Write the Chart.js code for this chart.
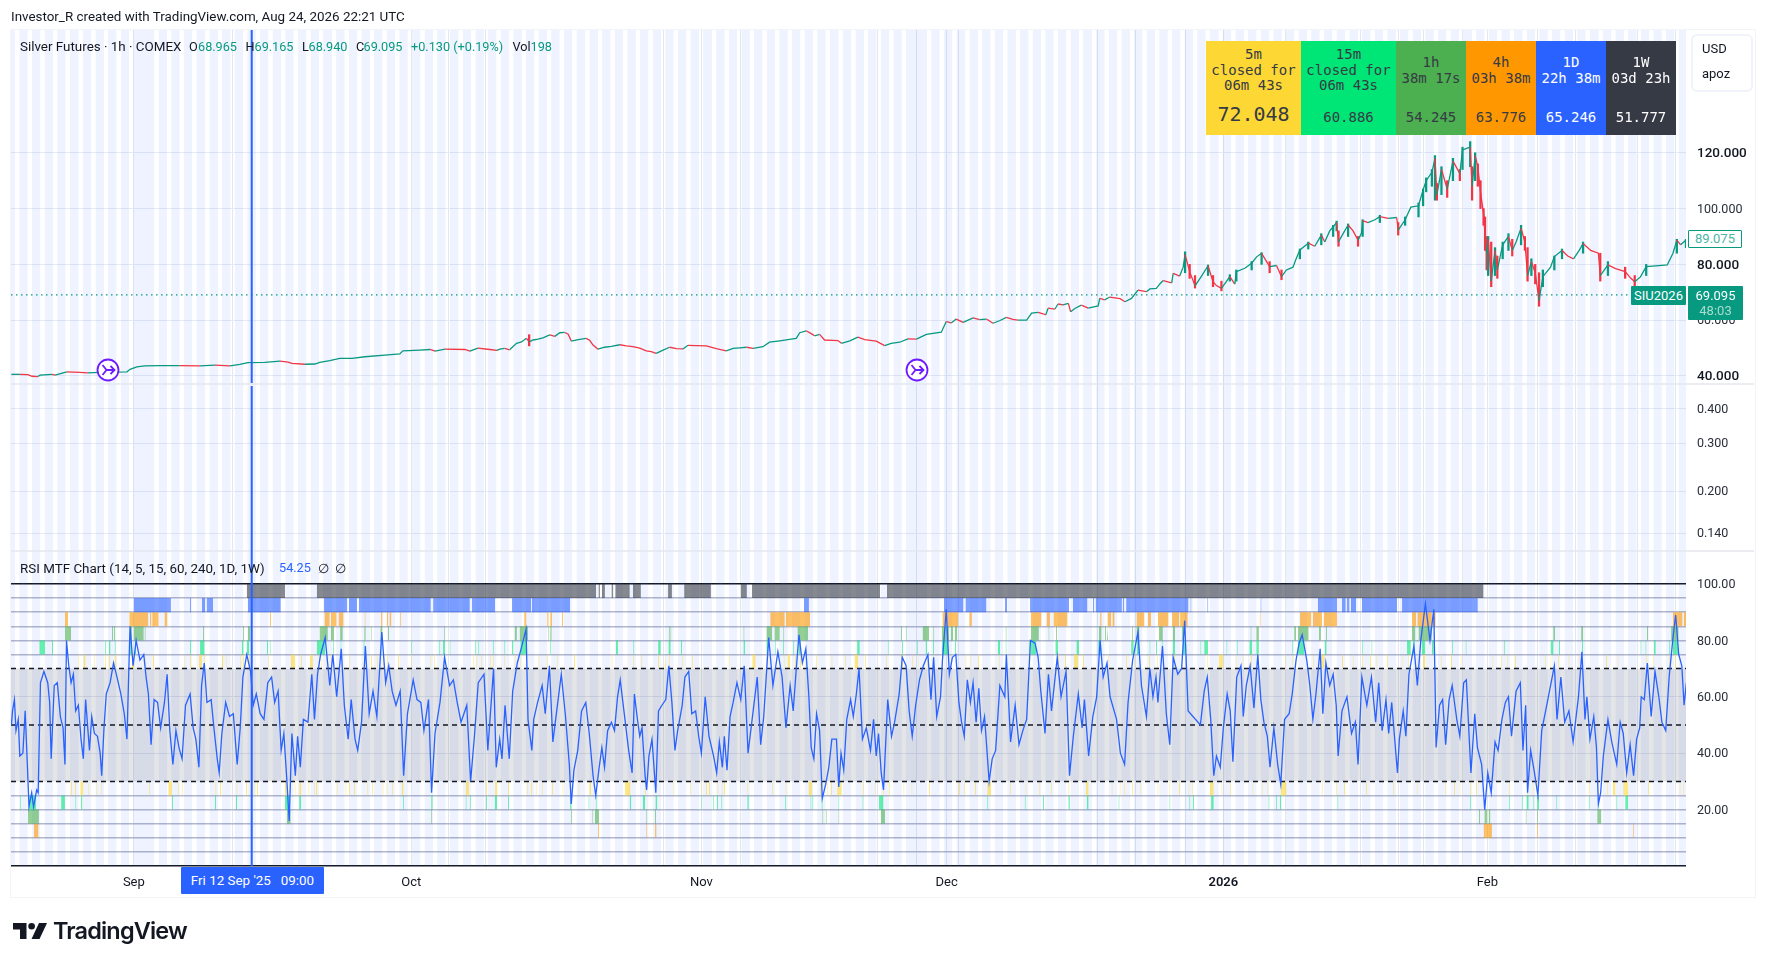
<!doctype html>
<html><head><meta charset="utf-8">
<script src="https://cdn.jsdelivr.net/npm/chart.js@4"></script>
<style>
html,body{margin:0;padding:0;background:#fff;width:1766px;height:964px;overflow:hidden;font-family:Roboto,sans-serif;color:#131722}
#c{position:absolute;left:0;top:0}
.t{position:absolute;white-space:pre;line-height:1}
#frame{position:absolute;left:10px;top:29px;width:1744px;height:867px;border:1.5px solid #f2f4f8;box-sizing:content-box}
.cell{position:absolute;top:41px;height:94px;font-family:"DejaVu Sans Mono",monospace;font-size:14px;text-align:center;line-height:15.6px;white-space:pre}
.cell b{position:absolute;left:0;right:0;top:69px;font-weight:400}
.cell span{position:absolute;left:0;right:0}
.g{color:#089981}
.leg span{position:absolute;top:0.5px;font-size:12.7px}
</style></head><body>
<div id="frame"></div>
<canvas id="c" width="1766" height="964"></canvas>
<div class="t" style="left:11px;top:10px;font-size:13.4px">Investor_R created with TradingView.com, Aug 24, 2026 22:21 UTC</div>
<div class="t leg" style="left:20px;top:40px;font-size:13.4px">Silver Futures · 1h · COMEX<span style="left:169px">O</span><span class="g" style="left:178px">68.965</span><span style="left:225.5px">H</span><span class="g" style="left:234.5px">69.165</span><span style="left:282px">L</span><span class="g" style="left:288.5px">68.940</span><span style="left:336px">C</span><span class="g" style="left:343.5px">69.095</span><span class="g" style="left:391px">+0.130 (+0.19%)</span><span style="left:492.5px">Vol</span><span class="g" style="left:510.5px">198</span></div>
<div class="t" style="left:20px;top:562px;font-size:13.4px">RSI MTF Chart (14, 5, 15, 60, 240, 1D, 1W)<span style="position:absolute;left:259px;color:#2962ff;font-size:12.7px">54.25</span><span style="position:absolute;left:298px">∅</span><span style="position:absolute;left:315px">∅</span></div>
<div class="cell" style="left:1206px;width:95px;height:94px;background:#fdd835;color:#363a45"><span style="top:6px">5m
closed for
06m 43s</span><b style="font-size:20px;top:66px">72.048</b></div>
<div class="cell" style="left:1301px;width:95px;background:#00e676;color:#363a45"><span style="top:6px">15m
closed for
06m 43s</span><b>60.886</b></div>
<div class="cell" style="left:1396px;width:70px;background:#4caf50;color:#363a45"><span style="top:14px">1h
38m 17s</span><b>54.245</b></div>
<div class="cell" style="left:1466px;width:70px;background:#ff9800;color:#363a45"><span style="top:14px">4h
03h 38m</span><b>63.776</b></div>
<div class="cell" style="left:1536px;width:70px;background:#2962ff;color:#fff"><span style="top:14px">1D
22h 38m</span><b>65.246</b></div>
<div class="cell" style="left:1606px;width:70px;background:#363a45;color:#fff"><span style="top:14px">1W
03d 23h</span><b>51.777</b></div>
<div style="position:absolute;left:1691px;top:34px;width:58px;height:54px;border:2px solid #f0f3fa;border-radius:6px"></div>
<div class="t" style="left:1702px;top:42px;font-size:13px">USD</div>
<div class="t" style="left:1702px;top:67px;font-size:13px">apoz</div>
<div class="t" style="left:1688px;top:230px;width:52px;height:16px;border:1.5px solid #089981;background:#fff;color:#4bb5a1;font-size:13px;text-align:center;line-height:16px;border-radius:1px">89.075</div>
<div class="t" style="left:1631px;top:286px;width:55px;height:19px;background:#089981;color:#fff;font-size:13px;text-align:center;line-height:19px;border-radius:1px">SIU2026</div>
<div class="t" style="left:1688px;top:286px;width:55px;height:34px;background:#089981;color:#fff;font-size:13px;text-align:center;border-radius:1px"><span style="position:absolute;left:0;right:0;top:3px">69.095</span><span style="position:absolute;left:0;right:0;top:18px;color:#a9dccf">48:03</span></div>
<div class="t" style="left:181px;top:867px;width:143px;height:27px;background:#2962ff;color:#fff;font-size:13.4px;text-align:center;line-height:27px;border-radius:1px">Fri 12 Sep '25   09:00</div>
<svg style="position:absolute;left:96px;top:358px" width="24" height="24" viewBox="0 0 24 24" fill="none" stroke="#6f1bff" stroke-width="1.8"><circle cx="12" cy="12" r="10.5" fill="#fff"/><path d="M6.5 7l4 5-4 5M9.5 12h9M14.5 8l4 4-4 4"/></svg>
<svg style="position:absolute;left:905px;top:358px" width="24" height="24" viewBox="0 0 24 24" fill="none" stroke="#6f1bff" stroke-width="1.8"><circle cx="12" cy="12" r="10.5" fill="#fff"/><path d="M6.5 7l4 5-4 5M9.5 12h9M14.5 8l4 4-4 4"/></svg>
<svg style="position:absolute;left:13px;top:923px" width="34" height="16" viewBox="0 0 34 16" fill="#131722"><path d="M0 0h13.5v16H7V6.5H0z"/><circle cx="18.6" cy="3.3" r="3.3"/><path d="M26 0h8l-7.5 16h-8z"/></svg>
<div class="t" style="left:53px;top:919px;font-size:23.5px;font-weight:600;font-family:Inter,Roboto,sans-serif;letter-spacing:-0.85px;color:#131722">TradingView</div>
<script>
// Timeline unit: one step of the (weekend-less) trading axis. Lists are split in three blocks.
const blockBase=[0,1568,3047];
const axisMin=29, axisMax=4406;
const monthTicks=[350,1075,1833,2474,3197,3887];
const monthLabels=['Sep','Oct','Nov','Dec','2026','Feb'];
const weekLines=[609,1171,1270,1733,1934,2294,2396,2506,2869,2968,3097,3360,3556,3656,3721,3823,4019,4118,4280,4379];
const crosshairTime=658;
const lastClose=69.095;
const priceTicks=[120,100,80,60,40];
const priceBoldTicks=[120,80,40];
const midTicks=[0.4,0.3,0.2,0.14];
const rsiBands=[70,50,30];
const rsiLabelTicks=[100,80,60,40,20];
const sessionGaps=[40,73,106,139,172,206,239,272,305,338,404,437,470,503,537,570,603,636,669,702,735,768,801,834,868,901,934,967,1000,1033,1066,1099,1132,1165,1199,1232,1265,1298,1331,1364,1397,1430,1463,1496,1530,1563,1596,1629,1662,1695,1728,1761,1794,1827,1861,1894,1927,1960,1993,2026,2059,2092,2125,2158,2192,2225,2258,2291,2324,2357,2423,2456,2489,2523,2556,2589,2622,2655,2688,2721,2754,2787,2820,2854,2887,2920,2953,2986,3019,3052,3085,3118,3151,3185,3218,3251,3284,3317,3350,3383,3416,3449,3482,3516,3549,3582,3615,3648,3681,3714,3747,3780,3813,3847,3880,3913,3946,3979,4012,4045,4078,4111,4144,4178,4211,4244,4277,4310,4343,4376];

const priceCloses=[[30,40.6],[52,40.6],[73,40.5],[84,39.9],[99,39.8],[105,40.3],[136,40.6],[144,40.3],[175,41.5],[209,41.3],[230,41.1],[261,41.3],[332,41.5],[340,42.4],[358,43.3],[379,43.6],[418,43.7],[470,43.7],[523,43.6],[562,43.9],[601,43.6],[627,44.2],[648,44.8],[692,44.9],[732,45.3],[753,45],[763,44.5],[797,44.2],[823,44.3],[836,44.9],[862,45.5],[888,46.3],[920,46.3],[954,46.9],[1006,47.5],[1045,47.9],[1053,49],[1097,49.3],[1124,49.5],[1137,48.9],[1163,49.6],[1215,49.5],[1228,48.9],[1249,50],[1280,49.5],[1299,49.2],[1306,49.6],[1319,49.9],[1332,49.4],[1350,51.7],[1363,52.2],[1376,53.5],[1383,52.2],[1393,52.9],[1406,53.2],[1419,53.7],[1437,54.7],[1450,54.2],[1463,55.5],[1476,55.6],[1485,55],[1493,52.5],[1511,53],[1532,53.5],[1541,52.8],[1550,51.1],[1563,49.6],[1580,50.3],[1598,50.6],[1620,51.2],[1637,50.8],[1654,50.5],[1672,50],[1689,49],[1702,48.7],[1715,48.1],[1733,49.3],[1750,50.3],[1768,49.8],[1785,49.7],[1798,51],[1820,50.9],[1846,50.8],[1872,49.8],[1898,49],[1916,49.9],[1933,50.1],[1951,50.3],[1968,49.9],[1994,50.5],[2011,52.1],[2038,52.6],[2072,53.3],[2081,53.5],[2090,55.5],[2107,56.2],[2120,55.2],[2129,54.4],[2142,54.9],[2155,52.9],[2177,52.8],[2190,52.7],[2199,51.7],[2221,52.6],[2242,53.9],[2260,53],[2290,52.5],[2312,50.9],[2329,51.7],[2351,52.1],[2373,53.3],[2395,53.2],[2421,54.9],[2460,55.7],[2473,59.5],[2486,59],[2499,60.4],[2517,59.2],[2543,60.8],[2560,60.2],[2578,60.4],[2595,58.9],[2612,59.8],[2630,61],[2647,60.3],[2660,60],[2683,60],[2696,62.5],[2713,62.8],[2726,62.3],[2733,61.9],[2739,64.3],[2757,64],[2765,65.8],[2778,65.5],[2792,66],[2798,63],[2809,64.2],[2826,65.4],[2844,64.3],[2870,65.1],[2874,67.8],[2887,67.3],[2900,68.3],[2927,67.7],[2940,66.6],[2957,67.8],[2974,70.8],[2996,70.2],[3005,71.2],[3022,71.4],[3031,73],[3040,74.2],[3062,73.4],[3066,76.8],[3083,75.8],[3092,79],[3097,83.5],[3109,77.4],[3123,72.3],[3140,75.8],[3157,79.5],[3170,73.8],[3179,72.4],[3192,71.4],[3214,75.6],[3227,72.9],[3231,77.4],[3253,78.6],[3271,80.4],[3284,82.7],[3297,84],[3310,81],[3318,79.2],[3336,79.6],[3349,75.6],[3362,78],[3379,79],[3386,81.6],[3397,85.2],[3419,87.6],[3436,86.5],[3453,90.5],[3462,88],[3475,92],[3484,93.5],[3493,95],[3498,88.1],[3510,91],[3523,94.1],[3536,92],[3549,88.7],[3558,91.2],[3561,95.7],[3575,95],[3593,96],[3606,97.1],[3628,96.5],[3650,96.8],[3654,92.3],[3672,96],[3687,100.5],[3707,101],[3719,106.7],[3727,110],[3742,113],[3750,118],[3755,105],[3767,114],[3782,107],[3797,117],[3815,112.6],[3822,121],[3842,122],[3847,108],[3855,119],[3862,115],[3869,106],[3877,98],[3881,90],[3885,84],[3889,89],[3897,74],[3907,85],[3913,78],[3927,87],[3942,90],[3952,85],[3962,88],[3975,93],[3985,88],[3992,76],[4002,81],[4012,77],[4022,67],[4032,75.6],[4052,79],[4062,82.8],[4082,85],[4097,83],[4112,82],[4127,85],[4137,87.5],[4157,85],[4177,84],[4182,76],[4202,79.8],[4222,78.5],[4247,77.4],[4262,75],[4272,73.8],[4287,75.5],[4302,79.2],[4327,79.5],[4357,79.8],[4372,84],[4382,88.7],[4392,87],[4406,88.7]];
const priceWicks=[[1383,50.8,54.8],[3097,77,84.5],[3109,75,80],[3123,71.5,76],[3157,76,79.8],[3170,72,76],[3192,70.5,74],[3214,74,76.3],[3231,74,78],[3271,78,81],[3297,80,84.2],[3318,77,81],[3349,74.5,78],[3397,82,85.5],[3419,85.5,88],[3453,87,91],[3484,90,94],[3493,92,95.5],[3498,86.5,92],[3523,90,94.5],[3549,86.5,90],[3561,90,96],[3606,95,97.6],[3654,90.5,95],[3672,94,97],[3707,97,102],[3719,101,107],[3727,106,111],[3742,108,114],[3750,103,119],[3755,103,109],[3767,105,115],[3782,104,110],[3797,110,118],[3815,110,114],[3822,114,122],[3842,115,124],[3847,103,115],[3855,110,120],[3862,108,116],[3869,100,110],[3877,94,100],[3881,85,97],[3885,78,90],[3889,76,90],[3897,72,88],[3907,76,86],[3913,75,83],[3927,82,88],[3942,85,91],[3952,83,89],[3975,87,94],[3985,85,90],[3992,74,86],[4002,76,82],[4012,73,80],[4022,65,77],[4032,72,78],[4062,78,83],[4082,82,85.5],[4137,84,88],[4182,74,84],[4202,76,81],[4247,75,79],[4272,72,76],[4302,76,80],[4382,84,89],[4406,86,89]];

const rsiSepOct=[[30,50],[33,55],[38,59],[42,48],[48,52],[52,39],[60,40],[66,55],[72,35],[76,21],[83,26],[88,21],[96,27],[100,26],[106,65],[115,69],[125,65],[130,58],[134,38],[142,64],[150,65],[158,53],[165,49],[170,36],[174,80],[180,71],[186,65],[192,68],[198,55],[205,57],[212,45],[218,38],[224,59],[234,41],[240,53],[247,47],[255,46],[262,40],[266,32],[272,49],[278,61],[288,65],[297,72],[306,67],[316,61],[325,54],[332,45],[340,85],[348,71],[356,80],[366,73],[376,75],[382,67],[388,61],[395,43],[403,59],[412,58],[420,49],[430,58],[437,68],[444,48],[452,36],[460,48],[468,42],[476,38],[485,57],[497,61],[505,49],[512,45],[520,35],[527,64],[534,72],[541,58],[552,59],[560,48],[568,38],[573,33],[580,47],[590,58],[600,53],[610,54],[620,36],[628,49],[635,67],[645,75],[655,69],[662,57],[670,61],[680,54],[690,52],[700,65],[710,67],[718,58],[727,62],[735,41],[742,47],[750,30],[756,16],[763,47],[772,32],[778,46],[785,35],[793,52],[805,51],[815,68],[822,52],[830,68],[838,75],[850,81],[862,64],[870,75],[880,60],[892,77],[900,57],[910,45],[918,59],[928,45],[935,41],[945,51],[955,78],[965,54],[975,62],[985,53],[998,83],[1008,65],[1016,71],[1025,62],[1035,57],[1046,62],[1055,32],[1065,54],[1080,66],[1090,59],[1100,58],[1108,48],[1120,59],[1128,26],[1137,47],[1150,58],[1162,74],[1175,64],[1185,66],[1195,58],[1205,51],[1220,57],[1230,30],[1240,46],[1250,65],[1265,68],[1275,41],[1290,70],[1297,35],[1306,45],[1312,38],[1320,57],[1331,38],[1340,62],[1352,72],[1362,77],[1375,84],[1380,52],[1390,41],[1395,52],[1405,58],[1417,64],[1425,54],[1436,71],[1445,44],[1455,55],[1467,68],[1478,53],[1488,36],[1493,22],[1500,34],[1510,41],[1520,55],[1531,58],[1540,47],[1550,32],[1557,25],[1566,35]];
const rsiNovDec=[[5,42],[12,35],[20,48],[30,51],[38,48],[46,60],[53,66],[60,58],[68,49],[75,41],[84,33],[90,61],[98,52],[104,46],[110,49],[118,32],[122,27],[128,39],[136,45],[146,26],[153,55],[162,57],[172,59],[180,71],[188,58],[196,41],[203,48],[215,57],[222,67],[232,69],[240,54],[250,55],[258,46],[265,40],[275,60],[285,46],[297,39],[305,33],[312,44],[320,35],[325,46],[332,34],[340,53],[348,58],[358,65],[368,59],[377,71],[387,40],[395,49],[403,58],[411,67],[420,43],[428,53],[441,81],[452,64],[465,76],[476,67],[486,49],[497,64],[505,55],[512,68],[520,82],[529,72],[538,77],[546,60],[552,42],[559,38],[566,54],[574,48],[581,24],[590,29],[598,35],[606,45],[618,45],[624,28],[630,40],[637,34],[645,52],[655,59],[662,53],[670,61],[677,70],[686,45],[696,49],[707,41],[715,52],[722,39],[728,47],[735,33],[741,27],[752,59],[762,46],[770,51],[782,61],[790,74],[800,71],[808,55],[816,46],[825,57],[835,66],[845,71],[857,75],[865,59],[872,74],[880,53],[890,60],[895,73],[905,91],[913,68],[921,74],[930,75],[938,58],[945,51],[952,46],[960,66],[968,58],[975,65],[983,51],[990,63],[997,48],[1005,53],[1017,30],[1025,38],[1034,41],[1045,64],[1058,60],[1062,75],[1073,44],[1085,57],[1095,43],[1105,48],[1115,52],[1125,80],[1137,79],[1145,74],[1152,62],[1163,47],[1172,68],[1180,55],[1195,74],[1205,60],[1218,69],[1227,32],[1237,46],[1250,61],[1260,49],[1266,59],[1277,39],[1288,53],[1298,60],[1307,80],[1315,67],[1325,72],[1333,60],[1350,52],[1360,40],[1371,36],[1380,58],[1392,73],[1406,83],[1415,64],[1428,53],[1437,70],[1445,60],[1453,67],[1458,58],[1470,78],[1480,54],[1489,43],[1498,74],[1510,68],[1520,70],[1528,87],[1537,55]];
const rsiJanFeb=[[90,50],[100,62],[108,67],[117,52],[125,32],[132,39],[142,35],[150,49],[160,61],[168,55],[175,37],[185,67],[196,71],[202,53],[210,64],[220,71],[230,56],[240,75],[248,59],[256,51],[265,46],[272,35],[282,49],[292,36],[300,29],[310,52],[322,54],[330,61],[340,73],[348,79],[356,82],[368,73],[376,64],[384,52],[392,61],[403,77],[410,54],[418,72],[428,64],[437,68],[445,57],[450,39],[460,55],[473,60],[485,47],[495,51],[502,36],[512,67],[525,57],[537,67],[548,51],[556,65],[565,48],[575,59],[582,47],[590,58],[605,33],[610,45],[620,55],[627,46],[635,68],[648,78],[657,64],[666,80],[678,93],[690,80],[700,91],[706,42],[715,57],[723,59],[731,43],[740,59],[748,64],[760,52],[768,46],[778,65],[785,66],[797,33],[807,54],[814,42],[825,36],[833,20],[841,33],[850,26],[860,44],[868,41],[878,52],[887,58],[895,60],[903,46],[915,62],[926,65],[933,41],[940,57],[945,26],[953,41],[962,34],[972,25],[982,48],[995,57],[1005,64],[1015,71],[1022,52],[1032,67],[1042,51],[1053,55],[1064,44],[1078,60],[1087,76],[1095,52],[1100,60],[1108,45],[1118,53],[1125,42],[1130,22],[1136,26],[1143,39],[1155,52],[1165,44],[1178,36],[1187,51],[1195,47],[1204,33],[1213,43],[1222,32],[1230,45],[1238,49],[1242,60],[1250,59],[1258,72],[1268,53],[1278,69],[1288,60],[1296,51],[1306,48],[1315,67],[1325,81],[1332,89],[1340,75],[1348,71],[1354,57],[1360,65]];

// Multi-timeframe rows: [band low, band high, colour, blocks]; a number is a single one-bar tick, a pair is a run.
const row1W=[[[645,745],[828,1558],[1564,1568]],[[5,13],[30,35],[40,78],[86,107],[178,188],[220,290],[368,384],[397,732],[750,1568]],[[89,830]]];
const row1D=[[[350,447],497,[528,537],[540,557],[648,734],[847,908],[912,933],[938,1126],[1132,1228],[1233,1294],[1338,1388],[1390,1490]],[[533,546],[899,950],[955,1010],[1058,1064],[1124,1226],[1236,1274],[1288,1292],[1295,1364],[1366,1370],[1375,1538],1543],[108,247,[397,447],[460,470],[472,480],[483,497],[512,604],[617,815]]];
const row4H=[[[170,178],[338,388],[392,396],[398,415],[430,438],656,706,[848,862],[865,880],[885,898],953,[996,1000],[1011,1015],[1018,1023],1046,[1370,1376],[1430,1434],[1438,1443],1469],[[445,483],[486,549],[895,936],[965,972],[1126,1154],[1167,1176],[1185,1222],[1307,1311],[1326,1336],[1339,1345],[1402,1423],[1432,1440],[1458,1486],[1495,1514],[1516,1536]],[245,[350,380],[384,408],[412,447],[643,654],[657,695],[697,705],[1325,1350],[1353,1360]]];
const row1H=[[[170,186],293,298,[340,346],[350,376],[378,381],531,635,[648,655],[835,857],[865,873],[889,896],[952,956],969,[994,1000],[1014,1017],1160,[1345,1351],[1358,1380],1433,[1438,1442]],[180,184,375,[435,450],[456,470],479,[516,544],787,799,[843,860],871,[893,912],[917,923],[927,933],1060,[1126,1147],1172,1192,[1304,1311],1320,1325,1390,[1402,1410],[1461,1471],[1497,1503],[1520,1527]],[221,[236,243],[335,340],[345,373],[400,405],418,[643,652],[660,695],[1012,1017],[1085,1090],1257,[1320,1340]]];
const row15M=[[[103,118],136,275,[285,289],300,[340,346],353,497,[523,535],[632,637],[645,652],698,705,[828,850],870,890,[950,953],995,1075,1148,[1158,1163],1175,1242,1250,1288,1318,[1338,1342],[1360,1375],1438],[[42,47],87,[152,159],[179,185],212,[375,379],[435,440],458,478,505,[519,525],[672,679],752,789,828,[851,855],870,[893,910],928,[1040,1046],1060,1120,[1125,1140],[1190,1197],[1245,1252],[1302,1310],[1388,1395],[1403,1410],1436,1453,1468,[1497,1503],[1522,1530]],[90,[100,110],158,185,[218,225],[236,243],330,[345,362],[415,420],513,537,[630,640],[645,650],[668,678],[695,700],748,783,883,[1005,1013],1027,1087,1240,1253,[1275,1280],1315,[1325,1338]]];
const row5M=[[205,[218,224],245,275,285,[300,305],[345,352],380,400,482,497,[520,528],533,[580,584],590,628,635,651,700,[760,772],787,[810,818],833,840,853,865,893,913,955,970,985,1000,1012,1040,1075,1125,1135,1160,1237,1245,1258,1280,1288,1318,1345,1360,1407,1430,1455,1500],[30,87,108,152,170,180,215,241,336,[398,407],435,480,[490,497],510,523,565,605,640,[665,675],693,748,[787,792],815,830,855,870,895,918,955,968,988,1042,1078,1118,1197,1215,[1238,1250],1262,1327,1375,1395,1435,1455,1470,1500,1520],[108,[138,150],182,200,222,240,312,330,385,[405,415],460,488,512,533,550,578,618,633,657,[672,678],700,718,745,770,853,875,892,912,990,1005,1025,1052,1078,1150,1180,1255,1272,1315,1330]];
const rowLow5M=[[186,196,[210,218],231,252,265,390,[440,450],465,475,[563,566],575,618,643,663,672,[745,750],770,[782,788],806,820,826,880,903,912,925,960,972,1000,1010,1025,[1050,1055],[1217,1226],1270,[1294,1300],1328,1378,1388,1400,1416,1443,1470,1512,[1540,1545]],[[65,80],118,145,192,236,265,277,285,307,318,324,385,450,485,[545,555],575,594,604,[620,632],687,718,740,755,793,814,860,938,952,980,[1012,1022],1072,1112,1148,1178,1224,[1270,1277],1337,1358,1370,1390,1412,1457,1488,1513,1538,1548],[[115,125],145,168,226,250,265,[300,315],407,445,465,523,594,655,730,753,767,795,810,897,943,958,970,1105,1130,1152,[1168,1175],[1195,1208],1260,1342,1352]];
const rowLow15M=[[52,[75,95],[160,170],197,[212,216],450,562,617,[745,758],[782,787],1053,[1127,1131],1217,1228,1270,[1293,1299],1328,[1490,1494],1538,1557],[[78,82],[112,118],[145,150],265,296,306,317,[385,389],484,550,555,[579,582],623,686,[729,741],1012,1110,1158,[1224,1228],[1272,1277],1355,1488,1540,1550],[[118,125],268,288,298,448,795,897,930,[942,948],960,[970,975],1020,1105,1130,1177,[1200,1208]]];
const rowLow1H=[[[73,102],[750,760],1127,1492,1548,[1555,1566]],[121,144,581,590,623,[734,745]],[818,[832,840],[843,848],940,970,[1127,1138]]];
const rowLow4H=[[[89,101],1563],[121,[144,148]],[[830,852],970,1220]];

const rows=[[95,100,'rgba(54,58,69,.6)',row1W],[90,95,'rgba(41,98,255,.6)',row1D],[85,90,'rgba(255,152,0,.6)',row4H],[80,85,'rgba(76,175,80,.6)',row1H],[75,80,'rgba(0,230,118,.6)',row15M],[70,75,'rgba(253,216,53,.6)',row5M],[25,30,'rgba(253,216,53,.6)',rowLow5M],[20,25,'rgba(0,230,118,.6)',rowLow15M],[15,20,'rgba(76,175,80,.6)',rowLow1H],[10,15,'rgba(255,152,0,.6)',rowLow4H]];

const UP='#089981',DOWN='#f23645';
const spanPoints=(spans,top)=>spans.flatMap(([a,b])=>[{x:a,y:top},{x:b,y:top},{x:b,y:null}]);
const blockSpans=blocks=>blocks.flatMap((b,i)=>b.map(s=>Array.isArray(s)?[s[0]+blockBase[i],s[1]+blockBase[i]]:[s+blockBase[i],s+blockBase[i]+2.6])).sort((p,q)=>p[0]-q[0]);
const fillSet=(data,axis,low,color,order)=>({type:'line',data,yAxisID:axis,xAxisID:'x',fill:{value:low},backgroundColor:color,borderWidth:0,pointRadius:0,spanGaps:false,tension:0,order});
const hLine=(v,axis,color,dash,w,order)=>({type:'line',data:[{x:axisMin,y:v},{x:axisMax,y:v}],yAxisID:axis,xAxisID:'x',borderColor:color,borderDash:dash,borderWidth:w,pointRadius:0,fill:false,order});

const blueSpans=sessionGaps.map((g,i)=>[g+10.5,i+1<sessionGaps.length?sessionGaps[i+1]:axisMax]);
blueSpans.unshift([axisMin,sessionGaps[0]]);
const stripe='rgba(41,98,255,.08)';
const priceTop=164,priceBot=37.13,midTop=0.494,midBot=0.1205,rsiTop=111.7;

const datasets=[
 fillSet(spanPoints(blueSpans,priceTop),'yPrice',priceBot,stripe,100),
 fillSet(spanPoints(blueSpans,midTop),'yMid',midBot,stripe,100),
 fillSet(spanPoints(blueSpans,rsiTop),'yRsi',0,stripe,100),
 {type:'line',data:[{x:axisMin,y:70},{x:axisMax,y:70}],yAxisID:'yRsi',xAxisID:'x',fill:{value:30},backgroundColor:'rgba(120,123,134,.2)',borderWidth:0,pointRadius:0,order:90},
 ...rows.map(([lo,hi,col,blocks])=>fillSet(spanPoints(blockSpans(blocks),hi),'yRsi',lo,col,80)),
 ...rsiBands.map(v=>hLine(v,'yRsi','#131722',[5,4],1.5,60)),
 hLine(lastClose,'yPrice',UP,[1.5,3.5],1.2,40)
];
const closes=priceCloses.map(([t,c])=>({x:t,y:c}));
const dirAt=new Map(priceCloses.map(([t,c],i)=>[t,i&&c<priceCloses[i-1][1]]));
datasets.push({type:'bar',data:priceWicks.map(([t,lo,hi])=>({x:t,y:[lo,hi]})),yAxisID:'yPrice',xAxisID:'x',barThickness:1.6,grouped:false,backgroundColor:priceWicks.map(([t])=>dirAt.get(t)?DOWN:UP),order:30});
datasets.push({type:'line',data:closes,yAxisID:'yPrice',xAxisID:'x',borderWidth:1.3,pointRadius:0,tension:0,fill:false,borderColor:UP,segment:{borderColor:c=>c.p1.parsed.y<c.p0.parsed.y?DOWN:UP},order:20});
const rsiAll=[[rsiSepOct,0],[rsiNovDec,1],[rsiJanFeb,2]].flatMap(([b,i])=>b.map(([t,v])=>({x:t+blockBase[i],y:v})));
datasets.push({type:'line',data:rsiAll,yAxisID:'yRsi',xAxisID:'x',borderColor:'#2962ff',borderWidth:1.3,pointRadius:0,tension:0,fill:false,order:10});

const rightAxis=s=>{s.width=68};
const setTicks=list=>s=>{s.ticks=list.map(value=>({value}))};
const lbl={size:12.5,family:'Roboto'};
const chrome={id:'chrome',afterDraw(ch){
 const c=ch.ctx,a=ch.chartArea,x=ch.scales.x.getPixelForValue(crosshairTime);
 c.save();
 c.strokeStyle='#e4e7ee';c.lineWidth=1.5;
 [ch.scales.yPrice.bottom,ch.scales.yMid.bottom].forEach(y=>{c.beginPath();c.moveTo(a.left,y);c.lineTo(1754,y);c.stroke();});
 c.strokeStyle='#2962ff';c.lineWidth=2;
 c.beginPath();c.moveTo(x,a.top);c.lineTo(x,ch.scales.yPrice.bottom-1);c.moveTo(x,ch.scales.yPrice.bottom+2);c.lineTo(x,a.bottom);c.stroke();
 c.restore();
}};
new Chart(document.getElementById('c'),{
 type:'line',
 data:{datasets},
 plugins:[chrome],
 options:{responsive:false,animation:false,devicePixelRatio:1,events:[],
  layout:{padding:{left:11,right:12,top:30,bottom:67}},
  plugins:{legend:{display:false},tooltip:{enabled:false}},
  scales:{
   x:{type:'linear',position:'bottom',min:axisMin,max:axisMax,offset:false,
      grid:{offset:false,drawTicks:false,color:'#e3e7f1',lineWidth:1},border:{display:false},
      afterBuildTicks:s=>{s.ticks=[...monthTicks,...weekLines].map(value=>({value}))},
      afterFit:s=>{s.height=31},
      ticks:{autoSkip:false,maxRotation:0,padding:9,color:'#131722',
        font:c=>({size:13,family:'Roboto',weight:c.tick&&c.tick.value===3197?'600':'400'}),
        callback:v=>{const i=monthTicks.indexOf(v);return i<0?'':monthLabels[i]}}},
   yPrice:{type:'linear',position:'right',stack:'panes',stackWeight:354,min:priceBot,max:priceTop,
      grid:{drawTicks:false,color:'#e8ebf3'},border:{display:false},
      afterBuildTicks:setTicks(priceTicks),afterFit:rightAxis,
      ticks:{autoSkip:false,padding:11,labelOffset:1,color:c=>priceBoldTicks.includes(c.tick.value)?'#131722':'#2a2e39',
        font:c=>({...lbl,size:priceBoldTicks.includes(c.tick&&c.tick.value)?13.5:12.5,weight:priceBoldTicks.includes(c.tick&&c.tick.value)?'500':'400'}),
        callback:v=>v.toFixed(3)}},
   yMid:{type:'logarithmic',position:'right',stack:'panes',stackWeight:167,min:midBot,max:midTop,
      grid:{drawTicks:false,color:'#e8ebf3'},border:{display:false},
      afterBuildTicks:setTicks(midTicks),afterFit:rightAxis,
      ticks:{autoSkip:false,padding:11,labelOffset:1,color:'#2a2e39',font:lbl,callback:v=>v.toFixed(3)}},
   yRsi:{type:'linear',position:'right',stack:'panes',stackWeight:315,min:0,max:rsiTop,
      grid:{drawTicks:false,
        color:c=>{const v=c.tick.value;return v===100||v===0?'#131722':(v>=70||v<=30?'#b3b7ca':'#e3e6ee')},
        lineWidth:c=>{const v=c.tick.value;return v===100||v===0?1.5:(v>=70||v<=30?1.4:1)}},
      border:{display:false},
      afterBuildTicks:setTicks([100,95,90,85,80,75,60,40,25,20,15,10,5,0]),afterFit:rightAxis,
      ticks:{autoSkip:false,padding:11,labelOffset:1,color:'#2a2e39',font:lbl,
        callback:v=>rsiLabelTicks.includes(v)?v.toFixed(2):''}}
  }}
});
</script>
</body></html>
